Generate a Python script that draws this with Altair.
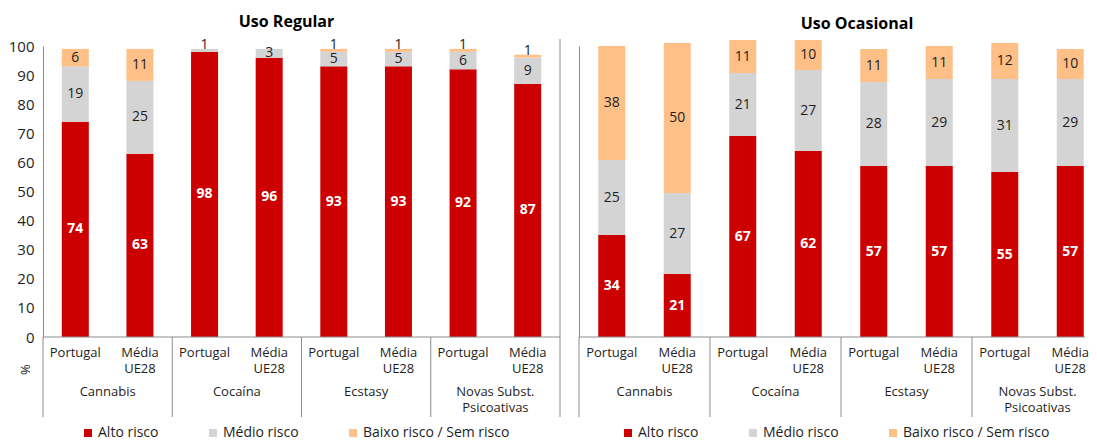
import altair as alt
import pandas as pd

# ---------------- data ----------------
categories = ["Cannabis", "Cocaína", "Ecstasy", "Novas Subst.\nPsicoativas"]
subgroups = ["Portugal", "Média\nUE28"]
risk_levels = ["Alto risco", "Médio risco", "Baixo risco / Sem risco"]
risk_colors = ["#CC0000", "#D4D4D4", "#FFC088"]

# bar order: Cannabis PT, Cannabis UE28, Cocaína PT, Cocaína UE28, ...
regular_alto = [74, 63, 98, 96, 93, 93, 92, 87]
regular_medio = [19, 25, 1, 3, 5, 5, 6, 9]
regular_baixo = [6, 11, 0, 0, 1, 1, 1, 1]

ocasional_alto = [34, 21, 67, 62, 57, 57, 55, 57]
ocasional_medio = [25, 27, 21, 27, 28, 29, 31, 29]
ocasional_baixo = [38, 50, 11, 10, 11, 11, 12, 10]

FONT = "Open Sans"
H = 291
BAR_W = 27
TEXT_DARK = "#1E1E1E"
LINE = "#8C8C8C"

keys = [f"{c}|{s}" for c in categories for s in subgroups]
first_keys = [f"{c}|{subgroups[0]}" for c in categories]
last_key = keys[-1]


def build_df(alto, medio, baixo):
    rows = []
    for i, k in enumerate(keys):
        y0 = 0
        for risk, vals in zip(risk_levels, [alto, medio, baixo]):
            v = vals[i]
            y1 = y0 + v
            label_y = y0 + v / 2 if v > 1 else y1 + 1.3
            rows.append(dict(key=k, risk=risk, value=v, y0=y0, y1=y1,
                             label_y=label_y, label=str(v)))
            y0 = y1
    df = pd.DataFrame(rows)
    return df[df["value"] > 0]


sub_df = pd.DataFrame({"key": keys, "sub": [s for c in categories for s in subgroups]})
cat_df = pd.DataFrame({"key": first_keys, "cat": categories})
end_df = pd.DataFrame({"key": [last_key]})
base_df = pd.DataFrame({"k": [0]})


def panel(df, title, ymax, width, visual_width, left_axis, legend_x, title_dx, end_rule):
    xs = alt.Scale(domain=keys, paddingInner=0, paddingOuter=0, range=[0, visual_width])
    ys = alt.Scale(domain=[0, ymax], nice=False, zero=True)
    if left_axis:
        yaxis = alt.Axis(values=list(range(0, 101, 10)), ticks=False, grid=False,
                         labelOverlap=False, labelFlush=False,
                         domainColor=LINE, labelFont=FONT, labelFontSize=15,
                         labelColor=TEXT_DARK, labelPadding=9,
                         title="%", titleAngle=270, titleX=-18, titleY=H + 32,
                         titleFont=FONT, titleFontSize=13, titleFontWeight="normal",
                         titleColor=TEXT_DARK, titleAlign="center", titleBaseline="middle")
    else:
        yaxis = alt.Axis(labels=False, ticks=False, grid=False, domainColor=LINE, title=None)

    bars = alt.Chart(df).mark_bar(width=BAR_W).encode(
        x=alt.X("key:N", scale=xs, axis=None),
        y=alt.Y("y0:Q", scale=ys, axis=yaxis),
        y2="y1:Q",
        color=alt.Color("risk:N", scale=alt.Scale(domain=risk_levels, range=risk_colors),
                        legend=alt.Legend(orient="none", legendX=legend_x, legendY=H + 89,
                                          direction="horizontal", title=None,
                                          symbolType="square", symbolSize=64,
                                          symbolStrokeWidth=0, labelFont=FONT,
                                          labelFontSize=14, labelColor=TEXT_DARK,
                                          labelOffset=3, columnPadding=47)),
    )

    red_labels = alt.Chart(df).transform_filter(
        alt.datum.risk == risk_levels[0]
    ).mark_text(font=FONT, fontSize=14, fontWeight="bold", color="white",
                baseline="middle").encode(
        x=alt.X("key:N", scale=xs, axis=None),
        y=alt.Y("label_y:Q", scale=ys, axis=yaxis), text="label:N")

    other_labels = alt.Chart(df).transform_filter(
        alt.datum.risk != risk_levels[0]
    ).mark_text(font=FONT, fontSize=14, color=TEXT_DARK, baseline="middle").encode(
        x=alt.X("key:N", scale=xs, axis=None),
        y=alt.Y("label_y:Q", scale=ys, axis=yaxis), text="label:N")

    sub_labels = alt.Chart(sub_df).mark_text(
        font=FONT, fontSize=13, color=TEXT_DARK, baseline="top", lineBreak="\n",
        lineHeight=16).encode(
        x=alt.X("key:N", scale=xs, axis=None), y=alt.value(H + 10), text="sub:N")

    cat_labels = alt.Chart(cat_df).mark_text(
        font=FONT, fontSize=13, color=TEXT_DARK, baseline="top", lineBreak="\n",
        lineHeight=16).encode(
        x=alt.X("key:N", scale=xs, bandPosition=1, axis=None), y=alt.value(H + 49),
        text="cat:N")

    dividers = alt.Chart(cat_df).mark_rule(color=LINE, strokeWidth=1).encode(
        x=alt.X("key:N", scale=xs, bandPosition=0, axis=None),
        y=alt.value(H), y2=alt.value(H + 80))

    baseline = alt.Chart(base_df).mark_rule(color=LINE, strokeWidth=1).encode(
        x=alt.value(0), x2=alt.value(width), y=alt.value(H))

    layers = [bars, baseline, dividers, red_labels, other_labels, sub_labels, cat_labels]
    if end_rule:
        layers.append(alt.Chart(end_df).mark_rule(color=LINE, strokeWidth=1).encode(
            x=alt.X("key:N", scale=xs, bandPosition=1, axis=None),
            y=alt.value(-7), y2=alt.value(H + 80)))

    return alt.layer(*layers).properties(
        width=width, height=H,
        title=alt.TitleParams(title, font=FONT, fontSize=16, fontWeight="bold",
                              color="black", anchor="middle", frame="group",
                              dx=title_dx, offset=8),
    )


left = panel(build_df(regular_alto, regular_medio, regular_baixo), "Uso Regular",
             100, 517, 517, True, 38, -15, True)
right = panel(build_df(ocasional_alto, ocasional_medio, ocasional_baixo), "Uso Ocasional",
              97, 506, 524, False, 42, 25, False)

chart = alt.hconcat(left, right, spacing=19, bounds="flush").resolve_scale(
    x="independent", y="independent", color="independent"
).resolve_legend(color="independent").configure_view(stroke=None).properties(
    padding={"left": 0, "top": 6, "right": 0, "bottom": 0}
)

chart.save("out.html", embed_options={"renderer": "svg", "actions": False})
